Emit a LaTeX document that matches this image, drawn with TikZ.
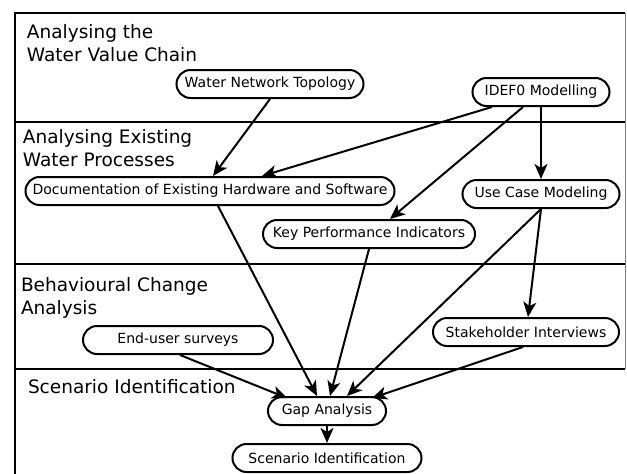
\documentclass[tikz,border=0pt]{standalone}
\usepackage{fontspec}
\setmainfont{DejaVu Sans}
\usetikzlibrary{arrows.meta,shapes.misc}
\begin{document}
\begin{tikzpicture}[x=1pt,y=-1pt,->,>={Stealth[length=15pt,width=13pt,inset=4pt]},line width=2pt]
\tikzset{step box/.style = {rounded rectangle,draw,black,line width=2pt,inner sep=0pt,minimum height=28pt,font=\fontsize{14}{16}\selectfont},
  lane title/.style = {inner sep=0pt,align=left,font=\fontsize{18.5}{23}\selectfont}}
\useasboundingbox (0,0) rectangle (627,474);
% lanes
\draw[-] (15,474) -- (15,13) -- (625,13);
\draw[-,gray,line width=0.8pt] (625,13) -- (625,369);
\draw[-] (15,122) -- (625,122);
\draw[-] (15,264) -- (625,264);
\draw[-] (15,369) -- (625,369);
\node[lane title,anchor=north west] (l1) at (26,23) {Analysing the\\Water Value Chain};
\node[lane title,anchor=north west] (l2) at (22,128) {Analysing Existing\\Water Processes};
\node[lane title,anchor=north west] (l3) at (20,276) {Behavioural Change\\Analysis};
\node[lane title,anchor=base west] (l4) at (27,393) {Scenario Identification};
% steps
\node[step box,minimum width=187pt] (wnt) at (270,84) {Water Network Topology};
\node[step box,minimum width=137pt] (idef) at (541,92) {IDEF0 Modelling};
\node[step box,minimum width=369pt] (doc) at (210,191) {Documentation of Existing Hardware and Software};
\node[step box,minimum width=157pt] (ucm) at (541,194) {Use Case Modeling};
\node[step box,minimum width=212pt] (kpi) at (369,234) {Key Performance Indicators};
\node[step box,minimum width=190pt] (eus) at (178,340) {End-user surveys};
\node[step box,minimum width=186pt] (stk) at (526,332) {Stakeholder Interviews};
\node[step box,minimum width=118pt] (gap) at (327,411) {Gap Analysis};
\node[step box,minimum width=189pt] (scn) at (327,458) {Scenario Identification};
% flows
\draw[->] (wnt.south) -- ([xshift=3pt]doc.north);
\draw[->] ([xshift=-49pt]idef.south) -- ([xshift=52pt]doc.north);
\draw[->] ([xshift=-18pt]idef.south) -- ([xshift=21pt]kpi.north);
\draw[->] (idef.south) -- (ucm.north);
\draw[->] ([xshift=8pt]doc.south) -- ([xshift=-10pt]gap.north);
\draw[->] (kpi.south) -- ([xshift=3pt]gap.north);
\draw[->] (ucm.south) -- ([xshift=20pt]gap.north);
\draw[->] (ucm.south) -- ([xshift=2pt]stk.north);
\draw[->] ([xshift=2pt]eus.south) -- ([xshift=-40pt,yshift=-2pt]gap.north);
\draw[->] ([xshift=-3pt]stk.south) -- ([xshift=45pt,yshift=-2pt]gap.north);
\draw[->] (gap.south) -- (scn.north);
\end{tikzpicture}
\end{document}
